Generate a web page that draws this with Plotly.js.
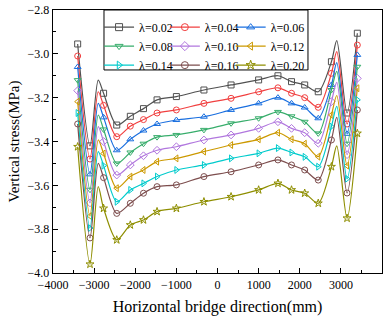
<!DOCTYPE html>
<html>
<head>
<meta charset="utf-8">
<script src="https://cdn.plot.ly/plotly-3.0.1.min.js"></script>
<style>html,body{margin:0;padding:0;background:#fff;}#chart{width:392px;height:322px;}</style>
</head>
<body>
<div id="chart"></div>
<script>
// x positions (mm)
var xPos = [-3400, -3100, -2900, -2770, -2450, -2120, -1800, -1470, -1000, -330, 330, 1000, 1470, 1800, 2120, 2450, 2770, 2900, 3150, 3400];
// which points carry a marker (the peaks at +-2900 do not)
var hasMarker = [1,1,0,1,1,1,1,1,1,1,1,1,1,1,1,1,1,0,1,1];

var labels = ["λ=0.02","λ=0.04","λ=0.06","λ=0.08","λ=0.10","λ=0.12","λ=0.14","λ=0.16","λ=0.20"];

var s002 = [-2.955,-3.42,-3.12,-3.18,-3.325,-3.285,-3.25,-3.21,-3.195,-3.165,-3.142,-3.119,-3.10,-3.127,-3.142,-3.173,-3.036,-2.94,-3.27,-2.906];
var s004 = [-3.01,-3.48,-3.173,-3.235,-3.378,-3.33,-3.30,-3.27,-3.256,-3.226,-3.203,-3.173,-3.155,-3.18,-3.20,-3.244,-3.089,-2.99,-3.32,-2.96];
var s006 = [-3.06,-3.55,-3.226,-3.29,-3.44,-3.39,-3.35,-3.32,-3.302,-3.287,-3.256,-3.226,-3.20,-3.226,-3.245,-3.294,-3.142,-3.04,-3.365,-3.005];
var s008 = [-3.12,-3.62,-3.279,-3.345,-3.50,-3.45,-3.41,-3.38,-3.37,-3.347,-3.317,-3.294,-3.265,-3.285,-3.31,-3.363,-3.165,-3.08,-3.41,-3.059];
var s010 = [-3.168,-3.68,-3.332,-3.40,-3.553,-3.507,-3.465,-3.44,-3.424,-3.393,-3.37,-3.34,-3.31,-3.34,-3.36,-3.408,-3.218,-3.13,-3.46,-3.112];
var s012 = [-3.218,-3.74,-3.393,-3.455,-3.613,-3.56,-3.53,-3.492,-3.477,-3.446,-3.416,-3.39,-3.36,-3.39,-3.41,-3.469,-3.279,-3.19,-3.51,-3.157];
var s014 = [-3.27,-3.795,-3.446,-3.51,-3.675,-3.621,-3.591,-3.56,-3.53,-3.507,-3.477,-3.454,-3.43,-3.45,-3.47,-3.515,-3.332,-3.24,-3.57,-3.21];
var s016 = [-3.32,-3.84,-3.50,-3.565,-3.728,-3.682,-3.636,-3.606,-3.598,-3.56,-3.538,-3.507,-3.484,-3.507,-3.53,-3.576,-3.393,-3.29,-3.635,-3.256];
var s020 = [-3.424,-3.96,-3.606,-3.705,-3.849,-3.781,-3.758,-3.72,-3.705,-3.675,-3.652,-3.621,-3.591,-3.621,-3.636,-3.682,-3.515,-3.42,-3.75,-3.363];

var series = [s002,s004,s006,s008,s010,s012,s014,s016,s020];
var colors = ["#515151","#F14040","#1A6FDF","#37AD6B","#B177DE","#CC9900","#00CBCC","#7D4E4E","#8E8E00"];
var symbols = ["square-open","circle-open","triangle-up-open","triangle-down-open","diamond-open","triangle-left-open","triangle-right-open","circle-open","star-open"];
var legendIds = ["legend","legend2","legend3","legend","legend2","legend3","legend","legend2","legend3"];

var traces = [];
series.forEach(function(ys, i){
  traces.push({
    x: xPos, y: ys, mode: 'lines', type: 'scatter',
    line: {color: colors[i], width: 1.2, shape: 'spline', smoothing: 0.8},
    showlegend: false, hoverinfo: 'skip'
  });
  var mx = [], my = [];
  xPos.forEach(function(x, k){ if(hasMarker[k]){ mx.push(x); my.push(ys[k]); } });
  traces.push({
    x: mx, y: my, mode: 'markers', type: 'scatter',
    marker: {symbol: symbols[i], size: 6, color: colors[i], line: {width: 1, color: colors[i]}},
    showlegend: false
  });
});
series.forEach(function(ys, i){
  traces.push({
    x: [null], y: [null], mode: 'lines+markers', type: 'scatter', name: labels[i],
    legend: legendIds[i],
    line: {color: colors[i], width: 1.2},
    marker: {symbol: symbols[i], size: 7, color: colors[i], line: {width: 1, color: colors[i]}}
  });
});

var font = 'Liberation Serif, Times New Roman, serif';
function leg(x){
  return {
    orientation: 'v', x: x, y: 0.99, xanchor: 'left', yanchor: 'top',
    bgcolor: 'rgba(0,0,0,0)', borderwidth: 0,
    font: {family: font, size: 12, color: '#000'},
    itemwidth: 30, tracegroupgap: 0, traceorder: 'normal'
  };
}
var layout = {
  width: 392, height: 322,
  margin: {l: 53, r: 10, t: 10, b: 49},
  paper_bgcolor: '#fff', plot_bgcolor: '#fff',
  font: {family: font, size: 12, color: '#000'},
  showlegend: true,
  legend: leg(0.14),
  legend2: leg(0.34),
  legend3: leg(0.54),
  shapes: [{
    type: 'rect', xref: 'paper', yref: 'paper', x0: 0.155, x1: 0.775, y0: 0.772, y1: 1.0,
    line: {color: '#000', width: 1}, fillcolor: '#fff', layer: 'above'
  }],
  xaxis: {
    range: [-4000, 4000], tickvals: [-4000,-3000,-2000,-1000,0,1000,2000,3000,4000],
    ticks: 'inside', ticklen: 5, tickwidth: 1.2, tickcolor: '#000',
    minor: {dtick: 500, ticks: 'inside', ticklen: 3, tickcolor: '#000', tickwidth: 1},
    showline: true, linecolor: '#000', linewidth: 1.3, mirror: true,
    showgrid: false, zeroline: false,
    tickfont: {family: font, size: 12},
    title: {text: 'Horizontal bridge direction(mm)', font: {family: font, size: 16}, standoff: 10}
  },
  yaxis: {
    range: [-4.0, -2.8], dtick: 0.2, tickformat: '.1f',
    ticks: 'inside', ticklen: 5, tickwidth: 1.2, tickcolor: '#000',
    minor: {dtick: 0.1, ticks: 'inside', ticklen: 3, tickcolor: '#000', tickwidth: 1},
    showline: true, linecolor: '#000', linewidth: 1.3, mirror: true,
    showgrid: false, zeroline: false,
    tickfont: {family: font, size: 12},
    title: {text: 'Vertical stress(MPa)', font: {family: font, size: 15}, standoff: 4}
  }
};

Plotly.newPlot('chart', traces, layout, {displayModeBar: false, staticPlot: true});
</script>
</body>
</html>
